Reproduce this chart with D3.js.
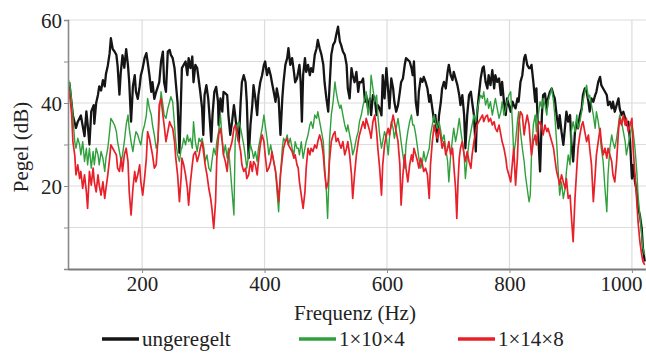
<!DOCTYPE html>
<html><head><meta charset="utf-8">
<script src="https://cdn.jsdelivr.net/npm/d3@7"></script>
<style>
html,body{margin:0;padding:0;background:#fff;}
svg{display:block;}
text{font-family:"Liberation Serif","DejaVu Serif",serif;fill:#222;}
</style></head><body>
<svg id="chart" width="646" height="353"></svg>
<script>
// ---- data (frequency Hz, level dB) ----
const xTicks = [200, 400, 600, 800, 1000];
const yTicks = [0, 10, 20, 30, 40, 50, 60];
const yLabels = [20, 40, 60];
const seriesNames = ["ungeregelt", "1×10×4", "1×14×8"];

const ungeregelt = [
[81,45],[87,37],[92,34],[95,35.5],[100,37],[106,32],[109,38],[111,35],[114,30],[117,38],[121,39.5],[122,35],[125,40],[128,42],[130,44],[133,43],[136,45.5],[139,44],[141,47],[144,49],[147,52],[149,55.6],[152,53],[155,52.4],[158,51.6],[160,49],[163,42],[165,47],[168,51.5],[171,48.5],[174,53],[177,49],[179,45],[182,35.5],[185,44],[188,46.7],[190,42.7],[193,41],[196,44],[198,46.7],[201,48.4],[204,50.8],[207,52],[209,50],[212,46.7],[215,42.7],[217,45],[220,41],[223,42.7],[228,45],[231,50],[234,52.4],[236,45],[239,42.7],[242,52.4],[245,52.8],[247,51.6],[250,50.8],[253,48.4],[255,45],[258,40],[261,28],
[265,48.4],[271,50],[274,46.7],[276,50.8],[279,48.4],[282,51.2],[284,45],[287,49.2],[290,48.4],[293,45],[295,42.7],[298,38.7],[300,32.3],[302,41.9],[305,44.3],[308,41.1],[310,37.1],[313,30.7],[315,37.1],[318,42.7],[321,43.9],[324,40.3],[325,34.7],[328,41.1],[331,37.9],[333,42.7],[336,42.3],[339,41.9],[341,37.1],[344,32.3],[347,35.5],[350,39.5],[352,37.1],[355,33.1],[358,30.7],[361,40.3],[363,45],[366,46.7],[369,45],[371,40.3],[374,26.7],[377,34.7],[380,39.5],[382,44.3],[385,41.1],[388,37.1],[390,41.9],[393,45],[396,46.7],[399,49.2],[401,50],[404,46.7],[407,48.4],[410,46.7],[412,45],[415,42.7],[418,40.3],[420,43.5],[423,41.1],[426,32.3],[429,41.1],[431,45],[434,49.2],[437,50.8],[439,53.2],[442,49.2],[445,50.8],[448,47.5],[450,45],[453,45.9],
[455,47.5],[457,49.2],[459,45],[461,35.5],[463,46.7],[466,50.8],[468,47.5],[471,49.2],[474,46.7],[476,48.4],[479,47.5],[482,51.6],[485,53.2],[487,55.2],[490,53.2],[493,51.6],[496,49.2],[498,45],[501,41.1],[504,37.9],[506,43.5],[509,51.6],[512,54],[515,54.8],[517,56.4],[520,58.4],[523,54.8],[525,54],[528,52.4],[531,51.6],[534,49.2],[536,43.5],[539,41.1],[542,48.4],[544,46.7],[547,45],[550,47.5],[553,42.7],[555,45],[558,45],[561,45.9],[564,40.3],[566,41.9],[569,38.7],[572,41.1],[574,37.1],[577,41.9],[580,41.1],[583,37.1],[585,39.5],[588,38.7],[591,37],[593,46.7],[596,41.1],[599,48.4],[602,42.7],[604,38.7],[607,45.9],[610,43.5],[612,40.3],[615,37.9],[618,39.5],[621,42.7],[623,45],[626,45.9],[629,49.2],[631,50.8],[634,50.4],[637,50],[640,48.4],[642,46.7],
[644,50],[647,40.3],[650,37.1],[652,42.7],[655,45.9],[658,45.1],[660,46.3],[663,45.1],[666,43.5],[669,40.3],[671,41.9],[674,38.7],[677,35.5],[679,37.1],[682,30.7],[685,37.1],[688,40.3],[690,43.5],[693,45.1],[696,43.5],[699,47.5],[701,49.2],[704,46.7],[707,45.5],[709,47.5],[712,45.9],[715,44.3],[718,41.9],[720,39.5],[723,41.9],[726,37.1],[728,29.1],[731,37.1],[734,41.9],[737,42.7],[739,40.3],[742,37.1],[745,28.3],[747,37.1],[750,41.9],[753,45.9],[756,48.4],[758,48.8],[761,45.1],[764,43.5],[766,46.7],[769,44.3],[772,47.9],[775,43.5],[777,46.7],[780,45.1],[783,45.9],[786,41.9],[788,45.1],[791,40.3],[794,37.1],[796,41.1],[799,39.5],[802,37.9],[805,40.3],[807,39.5],[810,38.7],[813,41.1],[815,40.3],[818,45.1],[821,46.7],[824,50.8],[826,51.6],[829,49.2],[832,48.4],
[834,48.4],[836,49.2],[839,45.1],[842,40.3],[844,43.5],[847,32.3],[850,23.5],[853,37.1],[855,41.9],[858,42.3],[861,38.7],[863,41.1],[866,42.7],[869,43.5],[872,41.9],[874,41.1],[877,37.1],[880,33.9],[882,37.1],[885,33.1],[888,29.9],[891,34.7],[893,37.9],[896,35.5],[899,37.1],[901,30.7],[904,25.9],[907,33.1],[910,35.5],[912,33.9],[915,37.1],[918,38.7],[920,41.9],[923,43.5],[926,42.7],[929,40.3],[931,37.9],[934,41.1],[937,40.3],[940,41.9],[942,42.7],[945,45.1],[948,46.3],[950,44.3],[953,43.5],[956,42.7],[959,41.9],[961,39.5],[964,40.3],[967,38.7],[969,40.3],[972,37.9],[975,39.5],[978,41.1],[980,38.7],[983,37.1],[986,37.9],[989,36.3],[991,34.7],[994,35.5],[997,30.7],[1000,21.8],[1002,25.1],[1005,21],[1008,18.6],[1010,14.6],[1013,13],[1016,9.8],[1018,5],[1021,1.8]
];

const r1x10x4 = [
[80,45.5],[83,43.5],[86,38.7],[88,34.7],[90,30.7],[92,29.1],[95,31.5],[98,29.9],[100,27.5],[103,30.7],[106,25.9],[109,29.1],[111,25.1],[114,29.1],[117,24.3],[120,28.3],[122,25.1],[125,29.1],[128,27.5],[130,25.1],[133,28.3],[136,26.7],[139,23.5],[141,26.7],[144,29.1],[147,33.1],[149,36.3],[152,35.5],[155,34.7],[158,33.1],[160,30.7],[163,28.3],[166,25.9],[168,27.5],[171,30.7],[174,34.7],[177,37.1],[179,33.9],[182,30.7],[185,28.3],[188,31.5],[190,33.1],[193,32.3],[196,30.7],[198,29.9],[201,33.1],[204,34.7],[207,37.1],[209,41.1],[212,38.7],[215,37.1],[217,34.7],[220,32.3],[223,29.1],[226,30.7],[228,37.1],[231,42.7],[234,39.5],[236,37.1],[239,36.3],[242,38.7],[245,40.3],[247,41.5],[250,40.3],[253,34.7],[255,30.7],[258,27.5],[261,25.9],[264,29.1],
[265,29.1],[268,31.5],[271,29.9],[274,32.3],[276,30.7],[279,31.5],[282,29.1],[284,35.5],[287,30.7],[290,28.3],[293,31.5],[295,30.7],[298,31.5],[301,29.1],[303,25.9],[306,27.5],[309,24.3],[312,23.5],[314,25.9],[317,29.1],[320,27.5],[322,30.7],[325,33.1],[328,37.1],[331,30.7],[333,27.5],[336,29.9],[339,26.7],[341,29.1],[344,24.3],[347,18.6],[350,13],[352,30.7],[355,34.7],[358,35.5],[361,33.9],[363,32.3],[366,29.9],[369,26.7],[371,24.3],[374,27.5],[377,29.9],[380,28.3],[382,26.7],[385,28.3],[388,25.9],[390,29.1],[393,31.5],[396,33.9],[399,37.1],[401,34.7],[404,31.5],[407,27.5],[410,29.9],[412,28.3],[415,25.9],[418,23.5],[420,19.4],[423,13.8],[426,22.7],[429,29.1],[431,31.5],[434,30.7],[437,32.3],[439,29.9],[442,31.5],[445,29.1],[448,27.5],[450,30.7],[453,29.1],
[455,29.1],[457,27.5],[460,30.7],[463,26.7],[466,29.1],[468,30.7],[471,32.3],[474,34.7],[476,35.5],[479,33.9],[482,37.1],[485,36.3],[487,37.9],[490,35.5],[493,33.1],[496,30.7],[498,25.1],[501,18.6],[503,12.2],[505,21],[506,30.7],[509,37.1],[512,40.3],[515,45.1],[517,42.7],[520,40.3],[523,38.7],[525,39.5],[528,37.1],[531,34.7],[534,33.1],[536,34.7],[539,32.3],[542,29.9],[544,27.5],[547,29.1],[550,31.5],[553,33.1],[555,35.5],[558,37.1],[561,39.5],[564,41.1],[566,42.7],[569,37.1],[572,40.3],[574,46.7],[577,43.5],[580,40.3],[583,41.9],[585,37.1],[588,32.3],[591,29.1],[593,30.7],[596,33.1],[599,31.5],[602,27.5],[604,31.5],[607,35.5],[610,33.9],[612,31.5],[615,33.9],[618,36.3],[621,33.1],[623,30.7],[626,27.5],[629,24.3],[631,29.9],[634,33.1],[637,35.5],[640,37.1],[642,34.7],
[644,34.7],[647,32.3],[650,29.1],[652,26.7],[655,24.3],[658,25.9],[660,28.3],[663,25.9],[666,27.5],[669,29.1],[671,32.3],[674,34.7],[677,37.1],[679,35.5],[682,33.9],[685,35.5],[688,33.1],[690,30.7],[693,32.3],[696,29.1],[699,25.9],[701,21],[704,27.5],[707,31.5],[709,33.9],[712,30.7],[715,33.1],[718,36.3],[720,33.9],[723,30.7],[726,27.5],[728,21.8],[731,26.7],[734,30.7],[737,33.1],[739,34.7],[742,37.1],[745,35.5],[747,37.9],[750,40.3],[753,41.9],[756,41.1],[758,42.7],[761,39.5],[764,41.1],[766,38.7],[769,40.3],[772,37.1],[775,39.5],[777,41.1],[780,38.7],[783,36.3],[786,37.9],[788,40.3],[791,37.1],[794,38.7],[796,40.3],[799,41.9],[802,42.7],[805,34.7],[807,27.5],[810,30.7],[813,35.5],[815,37.9],[818,33.1],[821,29.1],[824,25.9],[826,22.7],[829,19.4],[832,16.2],
[834,17.8],[836,27.5],[839,34.7],[842,37.1],[844,33.1],[847,37.1],[850,40.3],[853,38.7],[855,41.1],[858,39.5],[861,37.1],[863,40.3],[866,41.9],[869,43.5],[872,40.3],[874,37.1],[877,30.7],[880,22.7],[882,17.8],[885,21],[888,17],[891,19.4],[893,23.5],[896,27.5],[899,25.1],[901,33.1],[904,35.5],[907,33.1],[910,37.1],[912,33.9],[915,35.5],[918,37.9],[920,40.3],[923,42.7],[926,44.3],[929,41.1],[931,41.9],[934,39.5],[937,37.1],[940,33.9],[942,37.9],[945,35.5],[948,32.3],[950,29.1],[953,25.9],[956,19.4],[959,13.8],[961,22.7],[964,29.1],[967,32.3],[969,30.7],[972,29.1],[975,31.5],[978,34.7],[980,37.1],[983,35.5],[986,33.1],[989,30.7],[991,27.5],[994,29.9],[997,32.3],[1000,34.7],[1002,33.1],[1005,29.1],[1008,23.5],[1010,17.8],[1013,13],[1016,8.2],[1018,5],[1021,3.4]
];

const r1x14x8 = [
[80,43.5],[83,40.3],[85,37.1],[87,30.7],[90,27.5],[92,22.7],[95,25.1],[98,21.8],[100,23.5],[103,19.4],[106,22.7],[109,18.6],[111,14.6],[114,23.5],[117,20.2],[120,24.3],[122,21],[125,18.6],[128,22.7],[130,20.2],[133,17.8],[136,21],[139,17],[141,19.4],[144,22.7],[147,26.7],[149,29.9],[152,29.1],[155,28.3],[158,27.5],[160,24.3],[163,23.5],[166,26.7],[168,23.5],[171,27.5],[174,29.1],[177,25.9],[179,18.6],[182,13],[185,19.4],[188,23.5],[190,21],[193,22.7],[196,25.1],[198,21],[201,17.8],[204,21.8],[207,26.7],[209,33.1],[212,31.5],[215,29.1],[217,27.5],[220,24.3],[223,25.1],[226,31.5],[228,39.5],[231,41.1],[234,37.1],[236,34.7],[239,30.7],[242,33.1],[245,35.5],[247,34.7],[250,33.9],[253,30.7],[255,26.7],[258,22.7],[261,16.2],[264,22.7],
[265,26.7],[268,25.1],[271,22.7],[274,19.4],[276,15.4],[279,21],[282,25.1],[284,27.5],[287,28.3],[290,25.9],[293,27.5],[295,29.1],[298,30.7],[301,27.5],[303,25.1],[306,22.7],[309,19.4],[312,17],[314,14.6],[317,9.8],[320,16.2],[322,26.7],[325,32.3],[328,33.9],[331,30.7],[333,27.5],[336,25.9],[339,23.5],[341,27.5],[344,29.1],[347,30.7],[350,33.9],[352,34.7],[355,33.1],[358,30.7],[361,28.3],[363,25.1],[366,23.5],[369,24.3],[371,21.8],[374,22.7],[377,25.9],[380,23.5],[382,25.9],[385,25.1],[388,22.7],[390,25.9],[393,29.9],[396,32.3],[399,30.7],[401,27.5],[404,23.5],[407,24.3],[410,25.9],[412,28.3],[415,25.9],[418,23.5],[420,21],[423,16.2],[426,22.7],[429,26.7],[431,29.1],[434,30.7],[437,31.5],[439,29.9],[442,29.1],[445,28.3],[448,26.7],[450,27.5],[453,25.1],
[455,24.3],[457,21],[460,17.8],[463,14.6],[466,18.6],[468,24.3],[471,29.1],[474,27.5],[476,29.1],[479,28.3],[482,29.9],[485,29.1],[487,30.7],[490,32.3],[493,30.7],[496,27.5],[498,23.5],[501,19.4],[504,21],[506,25.9],[509,30.7],[512,32.3],[515,33.1],[517,30.7],[520,31.5],[523,29.9],[525,29.1],[528,30.7],[531,27.5],[534,29.1],[536,30.7],[539,27.5],[542,22.7],[544,17],[547,22.7],[550,27.5],[553,30.7],[555,32.3],[558,33.9],[561,35.5],[564,33.9],[566,36.3],[569,34.7],[572,33.1],[574,31.5],[577,35.5],[580,37.1],[583,33.1],[585,29.1],[588,24.3],[591,17.8],[593,25.1],[596,29.9],[599,32.3],[602,33.9],[604,32.3],[607,34.7],[610,37.1],[612,35.5],[615,33.1],[618,30.7],[621,25.1],[623,15.4],[626,22.7],[629,27.5],[631,24.3],[634,21],[637,25.1],[640,27.5],[642,25.9],
[644,29.1],[647,27.5],[650,25.9],[652,24.3],[655,26.7],[658,25.1],[660,23.5],[663,24.3],[666,22.7],[669,17],[671,25.1],[674,30.7],[677,34.7],[679,33.1],[682,31.5],[685,33.9],[688,31.5],[690,29.1],[693,30.7],[696,27.5],[699,29.1],[701,30.7],[704,27.5],[707,29.1],[709,25.1],[712,19.4],[714,12.2],[716,21],[718,26.7],[720,29.1],[723,30.7],[726,27.5],[728,25.9],[731,28.3],[734,25.9],[737,24.3],[739,27.5],[742,30.7],[745,33.1],[747,34.7],[750,35.5],[753,36.3],[756,37.1],[758,35.5],[761,36.7],[764,37.1],[766,35.5],[769,36.3],[772,34.7],[775,35.5],[777,33.9],[780,33.1],[783,34.7],[786,32.3],[788,30.7],[791,29.1],[794,26.7],[796,24.3],[799,22.7],[802,21],[805,25.9],[807,29.1],[810,20.2],[813,26.7],[815,34.7],[818,37.9],[821,37.1],[824,32.3],[826,34.7],[829,37.1],[832,34.7],
[834,30.7],[836,27.5],[839,30.7],[842,32.3],[844,29.9],[847,34.7],[850,35.5],[853,33.9],[855,32.3],[858,34.7],[861,33.1],[863,33.9],[866,32.3],[869,30.7],[872,29.1],[874,26.7],[877,23.5],[880,21.8],[882,20.2],[885,22.7],[888,21],[891,19.4],[893,21.8],[896,17],[899,17.8],[901,13],[904,6.6],[907,17],[910,24.3],[912,29.1],[915,32.3],[918,34.7],[920,35.5],[923,33.1],[926,30.7],[929,32.3],[931,29.1],[934,25.1],[937,16.2],[940,22.7],[942,27.5],[945,30.7],[948,33.9],[950,30.7],[953,27.5],[956,29.1],[959,26.7],[961,29.1],[964,27.5],[967,25.9],[969,22.7],[972,21],[975,25.9],[978,33.1],[980,36.3],[983,34.7],[986,37.1],[989,34.7],[991,36.3],[994,33.1],[997,34.7],[1000,36.3],[1002,29.1],[1005,22.7],[1008,16.2],[1010,11.4],[1013,6.6],[1016,3.4],[1018,1.8],[1021,1]
];

// ---- chart ----
const W = 646, H = 353;
const m = {left: 68, right: 0, top: 20, bottom: 84};
const svg = d3.select("#chart");
const x = d3.scaleLinear().domain([79, 1023]).range([m.left, W - m.right]);
const y = d3.scaleLinear().domain([0, 60]).range([H - m.bottom, m.top]);

const colors = ["#151515", "#2fa03c", "#e8202a"];
const widths = [2.3, 1.4, 1.7];
const series = [ungeregelt, r1x10x4, r1x14x8];

// grid
const grid = svg.append("g");
grid.selectAll("line.h").data(yTicks.filter(d => d > 0)).join("line")
  .attr("x1", m.left).attr("x2", W - m.right)
  .attr("y1", d => y(d)).attr("y2", d => y(d))
  .attr("stroke", "#dcdcdc").attr("stroke-width", 1.2);
grid.selectAll("line.v").data(xTicks).join("line")
  .attr("x1", d => x(d)).attr("x2", d => x(d))
  .attr("y1", y(60)).attr("y2", y(0))
  .attr("stroke", "#dcdcdc").attr("stroke-width", 1.2);

// lines
svg.append("clipPath").attr("id", "clip").append("rect")
  .attr("x", m.left).attr("y", m.top - 5).attr("width", W - m.left).attr("height", y(0) - m.top + 5);
const line = d3.line().x(d => x(d[0])).y(d => y(d[1]));
const lg = svg.append("g").attr("clip-path", "url(#clip)");
series.forEach((s, i) => {
  lg.append("path").datum(s).attr("d", line)
    .attr("fill", "none").attr("stroke", colors[i])
    .attr("stroke-width", widths[i]).attr("stroke-linejoin", "round");
});

// axes
const yAxis = svg.append("g").attr("transform", `translate(${m.left},0)`)
  .call(d3.axisLeft(y).tickValues(yTicks).tickSize(4)
    .tickFormat(d => yLabels.includes(d) ? d : ""));
yAxis.select(".domain").attr("stroke", "#8a8a8a").attr("stroke-width", 1.6);
yAxis.selectAll(".tick line").attr("stroke", "#8a8a8a");
yAxis.selectAll(".tick text").attr("font-size", 21).attr("x", -6).attr("dy", "0.34em")
  .attr("font-family", "Liberation Serif").attr("fill", "#222");

const xAxis = svg.append("g").attr("transform", `translate(0,${y(0)})`)
  .call(d3.axisBottom(x).tickValues(xTicks).tickSize(4).tickSizeOuter(0).tickFormat(d3.format("d")));
xAxis.select(".domain").attr("stroke", "#7a7a7a").attr("stroke-width", 2);
xAxis.selectAll(".tick line").attr("stroke", "#8a8a8a");
xAxis.selectAll(".tick text").attr("font-size", 21).attr("y", 6).attr("dy", "0.75em")
  .attr("font-family", "Liberation Serif").attr("fill", "#222")
  .attr("text-anchor", d => d === 1000 ? "end" : "middle")
  .attr("dx", d => d === 1000 ? "10" : "0");

svg.append("text").attr("x", 355).attr("y", 320).attr("text-anchor", "middle")
  .attr("font-size", 21).text("Frequenz (Hz)");
svg.append("text").attr("transform", "translate(28,147) rotate(-90)")
  .attr("text-anchor", "middle").attr("font-size", 21).text("Pegel (dB)");

// legend
const legX = [102, 299, 458];
const leg = svg.append("g");
seriesNames.forEach((n, i) => {
  leg.append("line").attr("x1", legX[i]).attr("x2", legX[i] + 37)
    .attr("y1", 339).attr("y2", 339).attr("stroke", colors[i]).attr("stroke-width", 3.5);
  leg.append("text").attr("x", legX[i] + 40).attr("y", 346).attr("font-size", 21).text(n);
});
</script>
</body></html>
